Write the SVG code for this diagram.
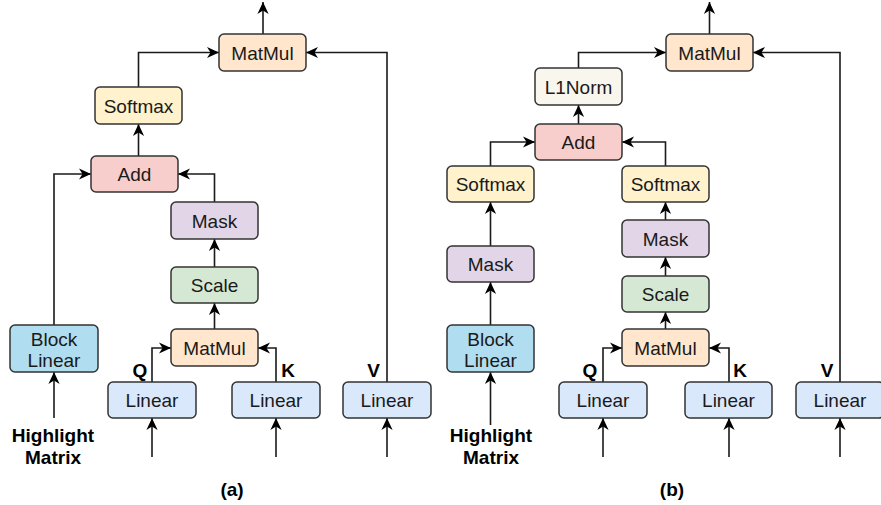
<svg xmlns="http://www.w3.org/2000/svg" width="881" height="505" viewBox="0 0 881 505">
<style>
.box{stroke:#333;stroke-width:1.5}
.t{font-family:"Liberation Sans",Arial,sans-serif;font-size:19px;fill:#1a1a1a;text-anchor:middle}
.b{font-weight:bold;fill:#000}
.c{fill:none;stroke:#1a1a1a;stroke-width:1.6;marker-end:url(#ah)}
.lin{fill:#dae8fc}.blk{fill:#b1ddf0}.mm{fill:#ffe6cc}.sm{fill:#fff2cc}.add{fill:#f8cecc}.msk{fill:#e1d5e7}.scl{fill:#d5e8d4}.l1{fill:#f9f7ed}
</style>
<defs>
<marker id="ah" markerUnits="userSpaceOnUse" markerWidth="14" markerHeight="14" viewBox="-13 -7 14 14" refX="0" refY="0" orient="auto">
<path d="M0,0 L-12,-5.6 L-8.5,0 L-12,5.6 Z" fill="#000"/>
</marker>
</defs>
<rect width="881" height="505" fill="#fff"/>
<g id="connectors">
<path class="c" d="M263,34 V2"/>
<path class="c" d="M138.5,87 V52.5 H219"/>
<path class="c" d="M387,382 V52.5 H306"/>
<path class="c" d="M138.5,156 V124"/>
<path class="c" d="M54,325 V174 H91"/>
<path class="c" d="M214.5,202 V174 H178"/>
<path class="c" d="M214.5,267 V239"/>
<path class="c" d="M214.5,329 V303"/>
<path class="c" d="M152,382 V348 H171"/>
<path class="c" d="M276,382 V348 H258"/>
<path class="c" d="M54,418 V372"/>
<path class="c" d="M152,457 V418"/>
<path class="c" d="M276,457 V418"/>
<path class="c" d="M387,457 V418"/>
<path class="c" d="M709.5,34 V2"/>
<path class="c" d="M578.5,68 V52.5 H666"/>
<path class="c" d="M840,382 V52.5 H753"/>
<path class="c" d="M578.5,124 V105"/>
<path class="c" d="M490.5,166 V142 H535"/>
<path class="c" d="M665.5,166 V142 H622"/>
<path class="c" d="M490.5,246 V202"/>
<path class="c" d="M490.5,325 V282"/>
<path class="c" d="M665.5,220 V202"/>
<path class="c" d="M665.5,276 V257"/>
<path class="c" d="M665.5,329 V312"/>
<path class="c" d="M603,382 V348 H622"/>
<path class="c" d="M729,382 V348 H709"/>
<path class="c" d="M490.5,425 V372"/>
<path class="c" d="M603,457 V418"/>
<path class="c" d="M729,457 V418"/>
<path class="c" d="M840,457 V418"/>
</g>
<g id="a-matmul-top"><rect class="box mm" x="219" y="34" width="87" height="37" rx="5"/><text class="t" x="262.5" y="59.5">MatMul</text></g>
<g id="a-softmax"><rect class="box sm" x="95" y="87" width="87" height="37" rx="5"/><text class="t" x="138.5" y="112.5">Softmax</text></g>
<g id="a-add"><rect class="box add" x="91" y="156" width="87" height="36" rx="5"/><text class="t" x="134.5" y="181">Add</text></g>
<g id="a-mask"><rect class="box msk" x="171" y="202" width="87" height="37" rx="5"/><text class="t" x="214.5" y="227.5">Mask</text></g>
<g id="a-scale"><rect class="box scl" x="171" y="267" width="87" height="36" rx="5"/><text class="t" x="214.5" y="292">Scale</text></g>
<g id="a-matmul"><rect class="box mm" x="171" y="329" width="87" height="37" rx="5"/><text class="t" x="214.5" y="354.5">MatMul</text></g>
<g id="a-block-linear"><rect class="box blk" x="10" y="325" width="88" height="47" rx="5"/><text class="t" x="54" y="346">Block</text><text class="t" x="54" y="367">Linear</text></g>
<g id="a-linear-q"><rect class="box lin" x="108" y="382" width="88" height="36" rx="5"/><text class="t" x="152" y="407">Linear</text></g>
<g id="a-linear-k"><rect class="box lin" x="232" y="382" width="88" height="36" rx="5"/><text class="t" x="276" y="407">Linear</text></g>
<g id="a-linear-v"><rect class="box lin" x="343" y="382" width="88" height="36" rx="5"/><text class="t" x="387" y="407">Linear</text></g>
<g id="a-labels">
<text class="t b" x="140" y="377">Q</text>
<text class="t b" x="288" y="377">K</text>
<text class="t b" x="373.5" y="377">V</text>
<text class="t b" x="53" y="442">Highlight</text>
<text class="t b" x="53" y="464">Matrix</text>
<text class="t b" x="232" y="496">(a)</text>
</g>
<g id="b-matmul-top"><rect class="box mm" x="666" y="34" width="87" height="37" rx="5"/><text class="t" x="709.5" y="59.5">MatMul</text></g>
<g id="b-l1norm"><rect class="box l1" x="535" y="68" width="87" height="37" rx="5"/><text class="t" x="578.5" y="93.5">L1Norm</text></g>
<g id="b-add"><rect class="box add" x="535" y="124" width="87" height="36" rx="5"/><text class="t" x="578.5" y="149">Add</text></g>
<g id="b-softmax-l"><rect class="box sm" x="447" y="166" width="87" height="36" rx="5"/><text class="t" x="490.5" y="191">Softmax</text></g>
<g id="b-softmax-r"><rect class="box sm" x="622" y="166" width="87" height="36" rx="5"/><text class="t" x="665.5" y="191">Softmax</text></g>
<g id="b-mask-l"><rect class="box msk" x="447" y="246" width="87" height="36" rx="5"/><text class="t" x="490.5" y="271">Mask</text></g>
<g id="b-mask-r"><rect class="box msk" x="622" y="220" width="87" height="37" rx="5"/><text class="t" x="665.5" y="245.5">Mask</text></g>
<g id="b-scale"><rect class="box scl" x="622" y="276" width="87" height="36" rx="5"/><text class="t" x="665.5" y="301">Scale</text></g>
<g id="b-matmul"><rect class="box mm" x="622" y="329" width="87" height="37" rx="5"/><text class="t" x="665.5" y="354.5">MatMul</text></g>
<g id="b-block-linear"><rect class="box blk" x="447" y="325" width="87" height="47" rx="5"/><text class="t" x="490.5" y="346">Block</text><text class="t" x="490.5" y="367">Linear</text></g>
<g id="b-linear-q"><rect class="box lin" x="559" y="382" width="88" height="36" rx="5"/><text class="t" x="603" y="407">Linear</text></g>
<g id="b-linear-k"><rect class="box lin" x="685" y="382" width="87" height="36" rx="5"/><text class="t" x="728.5" y="407">Linear</text></g>
<g id="b-linear-v"><rect class="box lin" x="796" y="382" width="88" height="36" rx="5"/><text class="t" x="840" y="407">Linear</text></g>
<g id="b-labels">
<text class="t b" x="590" y="377">Q</text>
<text class="t b" x="740" y="377">K</text>
<text class="t b" x="827" y="377">V</text>
<text class="t b" x="491" y="442">Highlight</text>
<text class="t b" x="491" y="464">Matrix</text>
<text class="t b" x="672" y="496">(b)</text>
</g>
</svg>
